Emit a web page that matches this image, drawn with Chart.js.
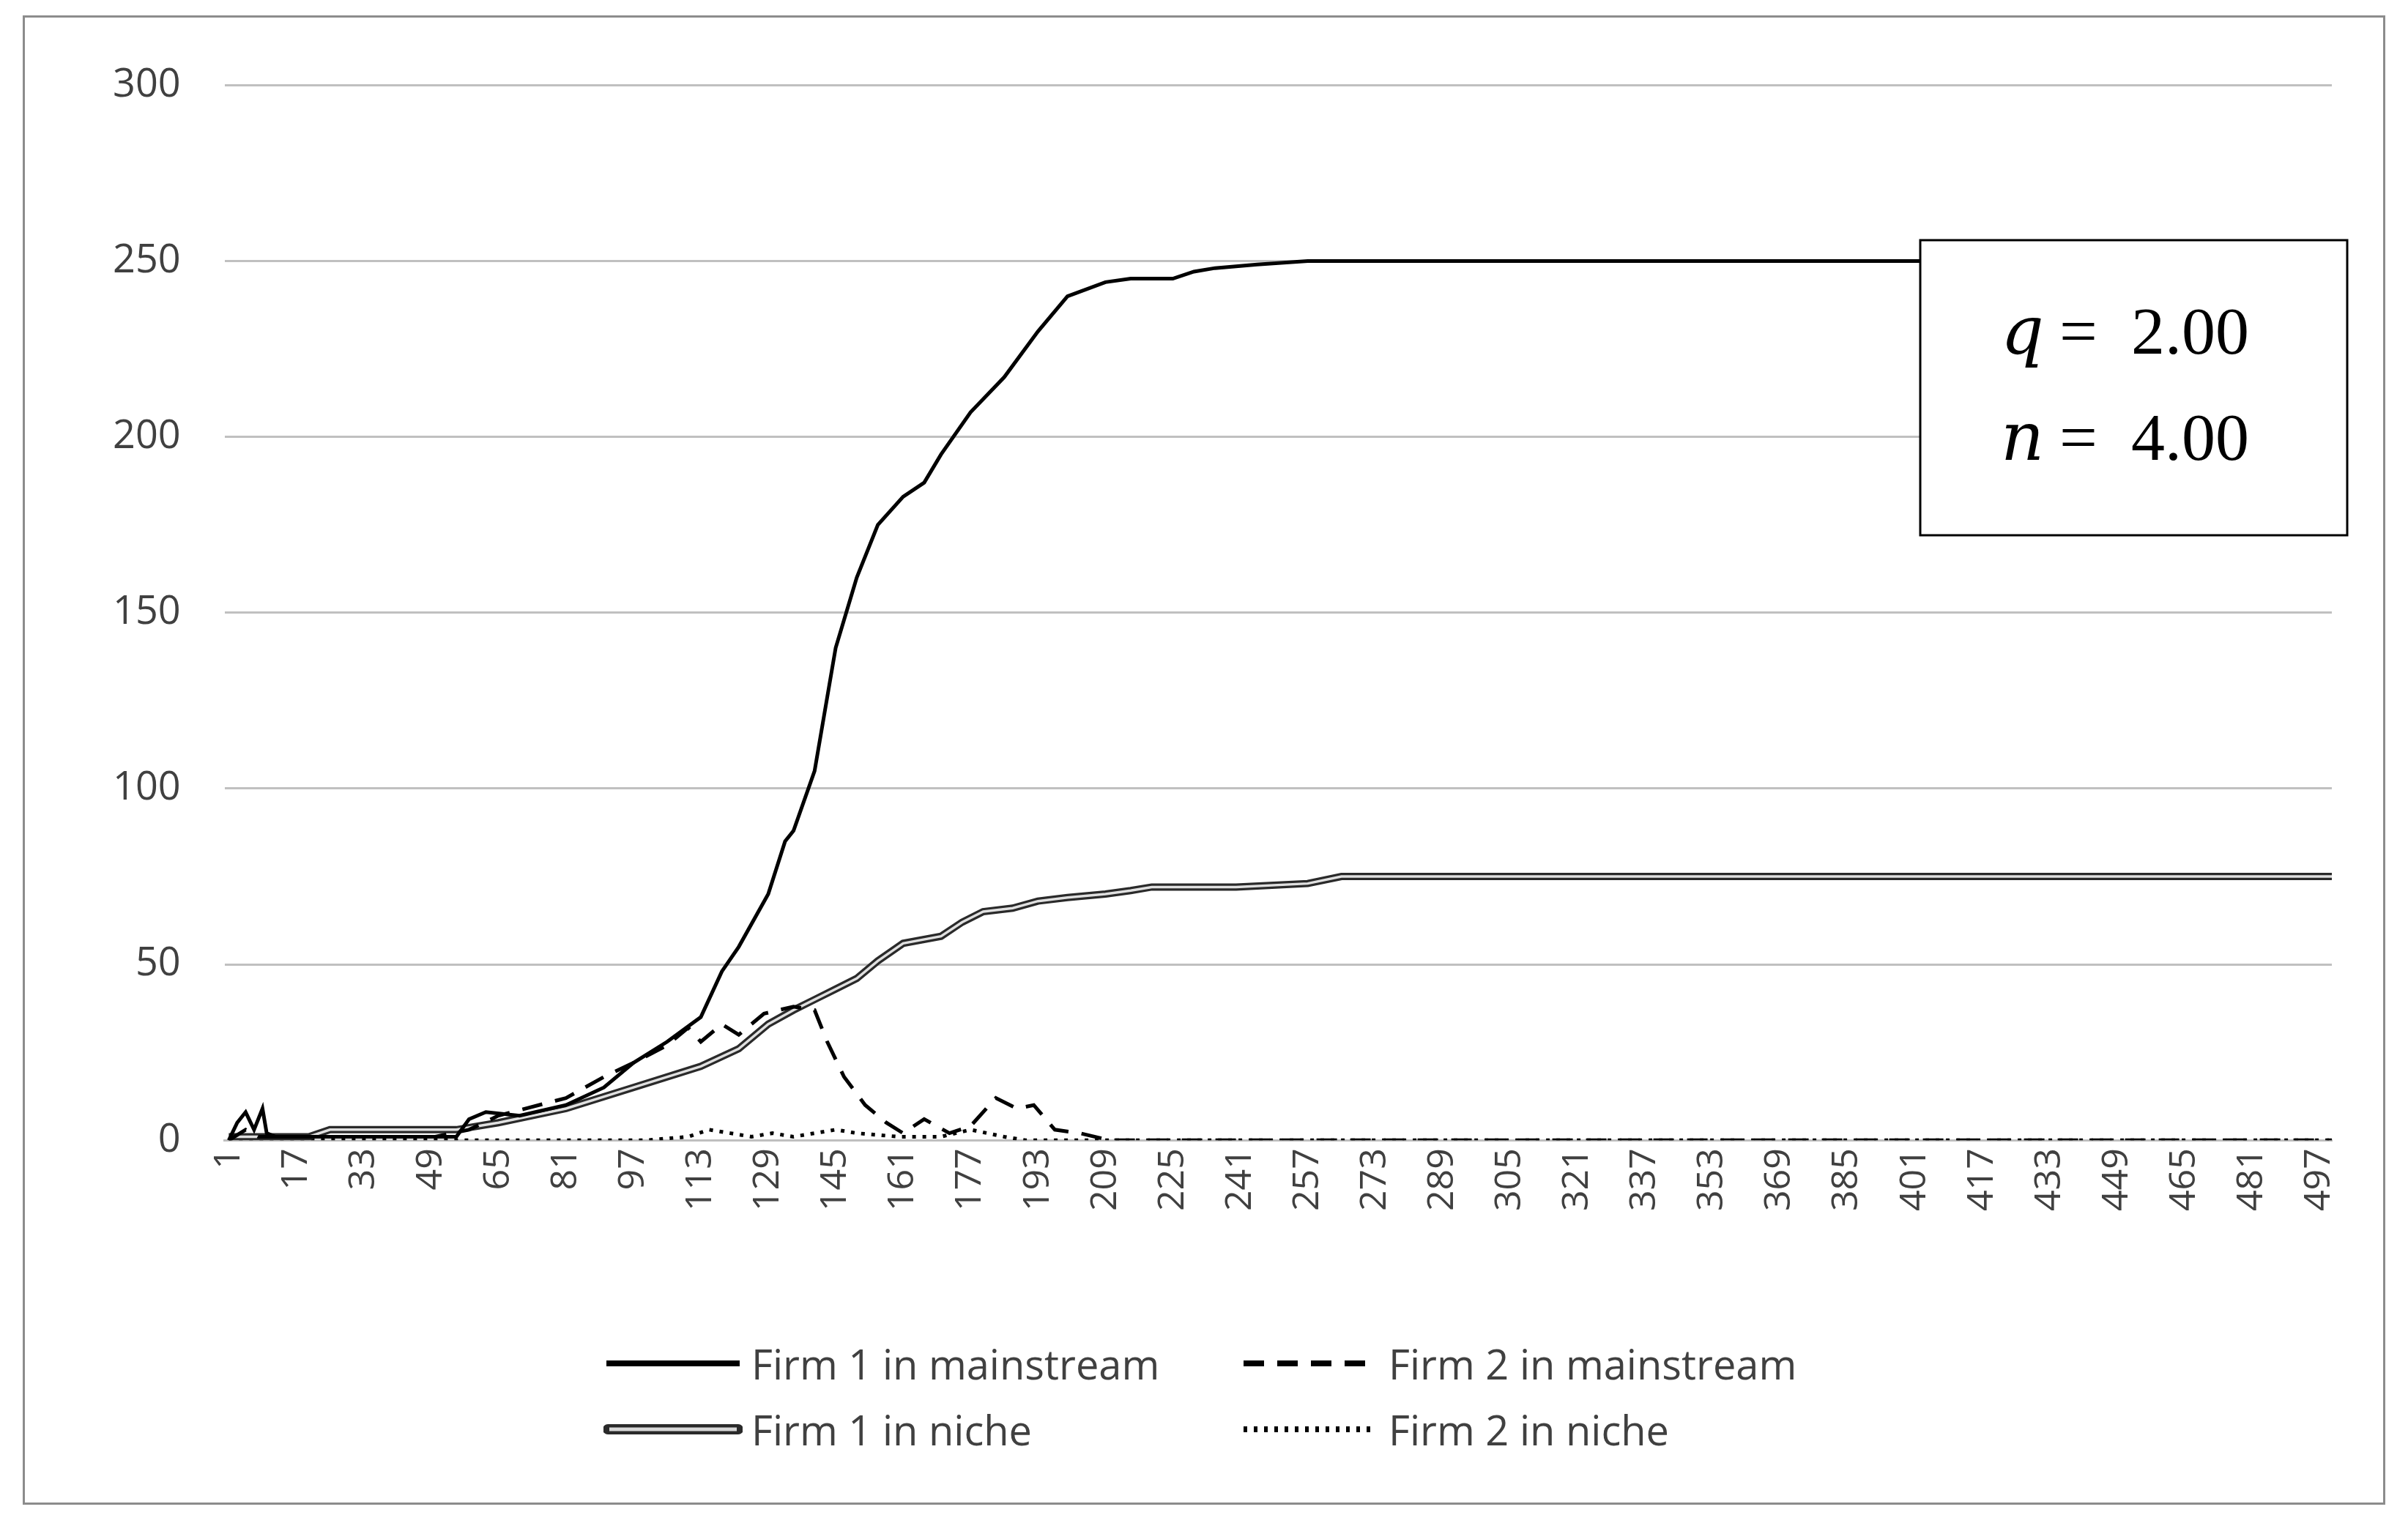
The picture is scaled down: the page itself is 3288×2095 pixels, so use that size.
<!DOCTYPE html>
<html>
<head>
<meta charset="utf-8">
<script src="https://cdn.jsdelivr.net/npm/chart.js@4"></script>
<style>
  body { margin: 0; background: #fff; }
  #frame { position: absolute; left: 31px; top: 21px; width: 3220px; height: 2028px; border: 3px solid #8c8c8c; background: #fff; }
  #chart { position: absolute; left: 0; top: 0; }
  #legend { position: absolute; left: 790px; top: 1800px; display: grid; grid-template-columns: 870px 800px; row-gap: 14px;
    font-family: "Open Sans", sans-serif; font-size: 56px; color: #404040; }
  .item { display: flex; align-items: center; white-space: nowrap; }
  .item svg { margin-right: 12px; }
</style>
</head>
<body>
<div id="frame">
  <canvas id="chart" width="3220" height="2028"></canvas>
  <div id="legend"></div>
</div>
<script>
const xTicks = [1, 17, 33, 49, 65, 81, 97, 113, 129, 145, 161, 177, 193, 209, 225, 241, 257, 273, 289, 305, 321, 337, 353, 369, 385, 401, 417, 433, 449, 465, 481, 497];
const yTicks = [0, 50, 100, 150, 200, 250, 300];

const firm1MainX = [1, 3, 5, 7, 9, 10, 12, 20, 40, 55, 58, 62, 70, 81, 90, 97, 105, 113, 118, 122, 129, 133, 135, 140, 145, 150, 155, 161, 166, 170, 177, 185, 193, 200, 209, 215, 225, 230, 235, 245, 257, 300, 400, 500];
const firm1MainY = [0, 5, 8, 3, 9, 2, 1, 1, 1, 1, 6, 8, 7, 10, 15, 22, 28, 35, 48, 55, 70, 85, 88, 105, 140, 160, 175, 183, 187, 195, 207, 217, 230, 240, 244, 245, 245, 247, 248, 249, 250, 250, 250, 250];

const firm2MainX = [1, 5, 8, 15, 30, 50, 58, 65, 81, 90, 97, 105, 110, 113, 118, 122, 128, 135, 140, 143, 147, 152, 157, 161, 166, 172, 177, 183, 188, 192, 197, 203, 210, 300, 400, 500];
const firm2MainY = [0, 3, 1, 1, 1, 1, 3, 7, 12, 18, 22, 27, 32, 28, 33, 30, 36, 38, 37, 28, 18, 10, 5, 2, 6, 2, 4, 12, 9, 10, 3, 2, 0, 0, 0, 0];

const firm1NicheX = [1, 20, 25, 55, 65, 81, 97, 113, 122, 129, 135, 140, 145, 150, 155, 161, 170, 175, 180, 187, 193, 200, 209, 215, 220, 240, 257, 265, 300, 400, 500];
const firm1NicheY = [1, 1, 3, 3, 5, 9, 15, 21, 26, 33, 37, 40, 43, 46, 51, 56, 58, 62, 65, 66, 68, 69, 70, 71, 72, 72, 73, 75, 75, 75, 75];

const firm2NicheX = [1, 100, 110, 115, 120, 125, 130, 135, 140, 145, 150, 160, 170, 177, 185, 190, 200, 300, 400, 500];
const firm2NicheY = [0, 0, 1, 3, 2, 1, 2, 1, 2, 3, 2, 1, 1, 3, 1, 0, 0, 0, 0, 0];

const annotationLines = [['q', '2.00'], ['n', '4.00']];

function pts(xs, ys) { return xs.map((x, i) => ({ x: x, y: ys[i] })); }

const seriesNames = ['Firm 1 in mainstream', 'Firm 2 in mainstream', 'Firm 1 in niche', 'Firm 2 in niche'];

// lower order is drawn on top
const datasets = [
  { label: seriesNames[0], data: pts(firm1MainX, firm1MainY), borderColor: '#000', borderWidth: 5, order: 1 },
  { label: seriesNames[1], data: pts(firm2MainX, firm2MainY), borderColor: '#000', borderWidth: 5, borderDash: [28, 18], order: 2 },
  { label: seriesNames[2], data: pts(firm1NicheX, firm1NicheY), borderColor: '#2a2a2a', borderWidth: 10, order: 4 },
  { label: '_inner', data: pts(firm1NicheX, firm1NicheY), borderColor: '#e0e0e0', borderWidth: 3.5, order: 3 },
  { label: seriesNames[3], data: pts(firm2NicheX, firm2NicheY), borderColor: '#000', borderWidth: 5, borderDash: [5, 9], order: 5 }
];

const annotationBox = {
  id: 'annotationBox',
  afterDraw(chart) {
    const c = chart.ctx;
    const x = 2588, y = 304, w = 583, h = 403;
    c.save();
    c.fillStyle = '#fff';
    c.fillRect(x, y, w, h);
    c.strokeStyle = '#000';
    c.lineWidth = 3;
    c.strokeRect(x, y, w, h);
    c.fillStyle = '#000';
    c.textBaseline = 'alphabetic';
    annotationLines.forEach((l, i) => {
      const by = y + 155 + i * 145;
      c.font = 'italic 92px "DejaVu Serif", serif';
      c.fillText(l[0], x + 110, by);
      c.font = '92px "Liberation Serif", serif';
      c.fillText('=  ' + l[1], x + 190, by);
    });
    c.restore();
  }
};

const chart = new Chart(document.getElementById('chart'), {
  type: 'line',
  data: { datasets: datasets },
  options: {
    responsive: false,
    animation: false,
    layout: { padding: { left: 60, right: 70, top: 72, bottom: 395 } },
    elements: { point: { radius: 0 }, line: { tension: 0, borderCapStyle: 'butt' } },
    plugins: { legend: { display: false }, tooltip: { enabled: false } },
    scales: {
      x: {
        type: 'linear', min: 0, max: 500,
        afterBuildTicks: (s) => { s.ticks = xTicks.map(v => ({ value: v })); },
        ticks: { autoSkip: false, minRotation: 90, maxRotation: 90, color: '#404040',
          font: { family: '"Open Sans", sans-serif', size: 50 } },
        grid: { display: false },
        border: { color: '#bfbfbf', width: 3 }
      },
      y: {
        min: 0, max: 300,
        afterBuildTicks: (s) => { s.ticks = yTicks.map(v => ({ value: v })); },
        ticks: { color: '#404040', padding: 60, font: { family: '"Open Sans", sans-serif', size: 54 } },
        grid: { color: '#c0c0c0', lineWidth: 3, drawTicks: false },
        border: { display: false }
      }
    }
  },
  plugins: [annotationBox]
});

// legend in two columns, built from the datasets
const legend = document.getElementById('legend');
const order = [0, 1, 2, 4];
order.forEach(i => {
  const ds = datasets[i];
  const div = document.createElement('div');
  div.className = 'item';
  let svg = '<svg width="190" height="30">';
  if (i === 2) {
    svg += '<line x1="6" y1="15" x2="184" y2="15" stroke="#2a2a2a" stroke-width="14" stroke-linecap="round"/>' +
           '<line x1="8" y1="15" x2="182" y2="15" stroke="#d8d8d8" stroke-width="5"/>';
  } else {
    const dash = ds.borderDash ? ds.borderDash.join(',') : '';
    svg += '<line x1="4" y1="15" x2="186" y2="15" stroke="#000" stroke-width="8" stroke-dasharray="' + dash + '"/>';
  }
  svg += '</svg>';
  div.innerHTML = svg + '<span>' + ds.label + '</span>';
  legend.appendChild(div);
});
</script>
</body>
</html>
